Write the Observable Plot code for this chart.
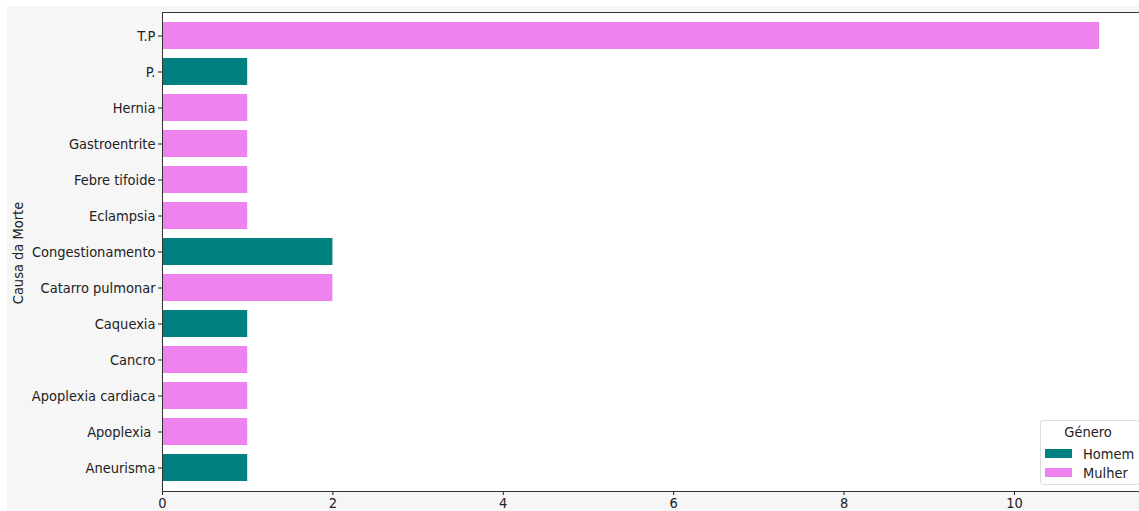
<!DOCTYPE html>
<html>
<head>
<meta charset="utf-8">
<script src="https://cdn.jsdelivr.net/npm/d3@7"></script>
<script src="https://cdn.jsdelivr.net/npm/@observablehq/plot@0.6"></script>
<style>
  html, body { margin: 0; padding: 0; background: #ffffff; overflow: hidden; }
  #wrap { position: relative; width: 1139px; height: 511px; overflow: hidden; }
  #bg { position: absolute; left: 7px; top: 6px; width: 1132px; height: 505px; background: #f6f6f6; }
  #chart { position: absolute; left: 0; top: 0; width: 1146px; }
  #chart svg { max-width: none !important; }
  #ylabel { position: absolute; left: 18px; top: 253px; transform: translate(-50%, -50%) rotate(-90deg);
    font-family: "DejaVu Sans Condensed", "DejaVu Sans", sans-serif; font-size: 14.5px; color: #222; white-space: nowrap; }
  #legend { position: absolute; left: 1040px; top: 420px; width: 100px; height: 65px; background: rgba(255,255,255,0.85);
    border: 1px solid #dddddd; border-radius: 3px; font-family: "DejaVu Sans Condensed", "DejaVu Sans", sans-serif; font-size: 14.5px; color: #222; box-sizing: border-box; }
  #legend .title { text-align: center; margin-top: 3px; height: 20px; padding-right: 4px; }
  #legend .row { display: flex; align-items: center; margin-left: 4px; height: 19px; }
  #legend .sw { width: 27px; height: 9px; margin-right: 11px; }
</style>
</head>
<body>
<div id="wrap">
  <div id="bg"></div>
  <div id="chart"></div>
  <div id="ylabel">Causa da Morte</div>
  <div id="legend"></div>
</div>
<script>
const causes = ["T.P", "P.", "Hernia", "Gastroentrite", "Febre tifoide", "Eclampsia", "Congestionamento",
  "Catarro pulmonar", "Caquexia", "Cancro", "Apoplexia cardiaca", "Apoplexia ", "Aneurisma"];
const counts = [11, 1, 1, 1, 1, 1, 2, 2, 1, 1, 1, 1, 1];
const genders = ["Mulher", "Homem", "Mulher", "Mulher", "Mulher", "Mulher", "Homem",
  "Mulher", "Homem", "Mulher", "Mulher", "Mulher", "Homem"];
const genderDomain = ["Homem", "Mulher"];
const genderColors = ["#008080", "#ee82ee"];
const xTicks = [0, 2, 4, 6, 8, 10];

const data = causes.map((c, i) => ({cause: c, value: counts[i], gender: genders[i]}));

const plot = Plot.plot({
  width: 1146,
  height: 511,
  marginLeft: 162,
  marginRight: 0,
  marginTop: 12,
  marginBottom: 20,
  style: {background: "transparent", fontFamily: "'DejaVu Sans Condensed', 'DejaVu Sans', sans-serif", fontSize: "14.5px", color: "#222", maxWidth: "none"},
  x: {domain: [0, 11.55], ticks: xTicks, label: null},
  y: {domain: causes, label: null, paddingInner: 0.255, paddingOuter: 0.233},
  color: {domain: genderDomain, range: genderColors},
  marks: [
    Plot.frame({fill: "white", stroke: null}),
    Plot.barX(data, {x: "value", y: "cause", fill: "gender"}),
    Plot.frame({stroke: "#333", strokeWidth: 1}),
    Plot.axisX({ticks: xTicks, tickSize: 4, tickPadding: 2, fontSize: 14.5, label: null}),
    Plot.axisY({tickSize: 4, tickPadding: 3, fontSize: 14.5, label: null})
  ]
});
document.getElementById("chart").appendChild(plot);

const legend = document.getElementById("legend");
const t = document.createElement("div");
t.className = "title";
t.textContent = "Género";
legend.appendChild(t);
genderDomain.forEach((g, i) => {
  const row = document.createElement("div");
  row.className = "row";
  const sw = document.createElement("div");
  sw.className = "sw";
  sw.style.background = genderColors[i];
  const lab = document.createElement("span");
  lab.textContent = g;
  row.appendChild(sw);
  row.appendChild(lab);
  legend.appendChild(row);
});
</script>
</body>
</html>
